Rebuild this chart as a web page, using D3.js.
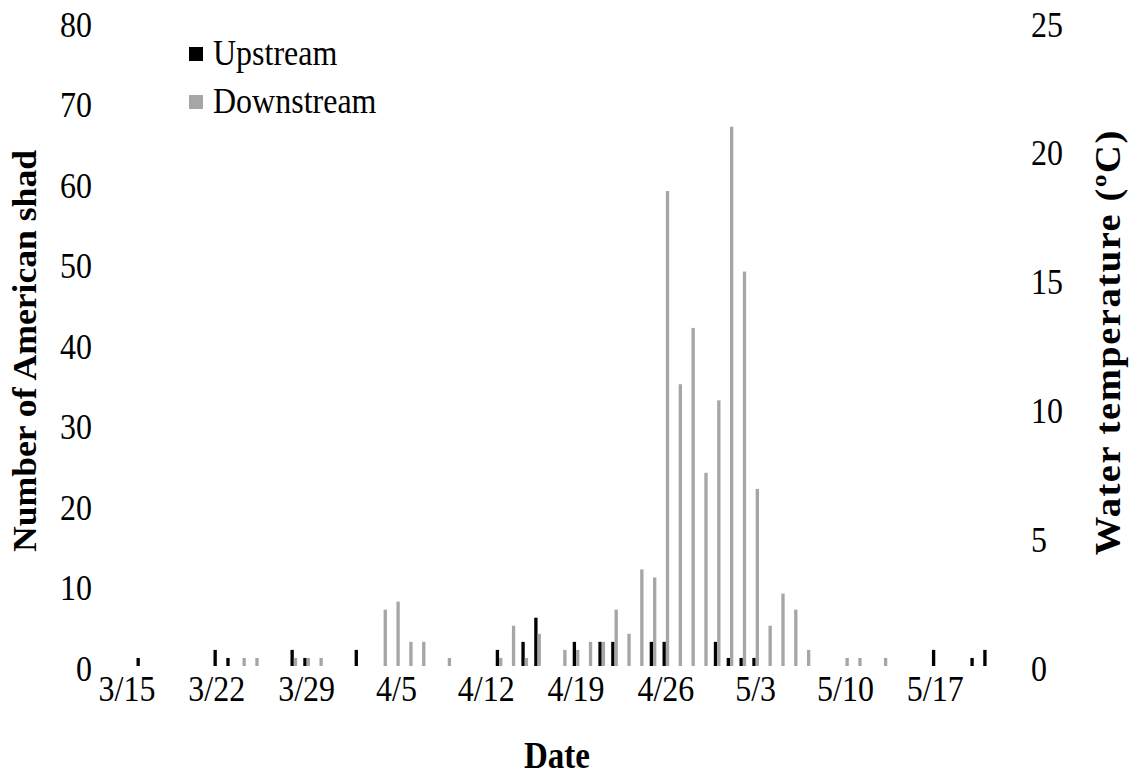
<!DOCTYPE html>
<html>
<head>
<meta charset="utf-8">
<script src="https://cdn.jsdelivr.net/npm/d3@7"></script>
<style>
  body { margin: 0; background: #fff; }
  text { font-family: "Liberation Serif", "Times New Roman", serif; fill: #000; }
</style>
</head>
<body>
<svg id="chart" width="1133" height="780"></svg>
<script>
// daily sampling dates, 3/15 through 5/21
var days = d3.timeDay.range(new Date(2016, 2, 15), new Date(2016, 4, 22));
var fmt = d3.timeFormat("%-m/%-d");
var dates = days.map(fmt);

// counts of American shad per day
var upstream = [
  0,1,0,0,0,0,0,2,1,0,
  0,0,0,2,1,0,0,0,2,0,
  0,0,0,0,0,0,0,0,0,2,
  0,3,6,0,0,3,0,3,3,0,
  0,3,3,0,0,0,3,1,1,1,
  0,0,0,0,0,0,0,0,0,0,
  0,0,0,2,0,0,1,2
];
var downstream = [
  0,0,0,0,0,0,0,0,0,1,
  1,0,0,1,1,1,0,0,0,0,
  7,8,3,3,0,1,0,0,0,1,
  5,1,4,0,2,2,3,3,7,4,
  12,11,59,35,42,24,33,67,49,22,
  5,9,7,2,0,0,1,1,0,1,
  0,0,0,0,0,0,0,0
];
var tickLabels = ["3/15","3/22","3/29","4/5","4/12","4/19","4/26","5/3","5/10","5/17"];
var seriesNames = ["Upstream", "Downstream"];
var seriesColors = ["#000000", "#a6a6a6"];

var svg = d3.select("svg#chart");

var plotLeft = 120.6, plotRight = 993,
    plotTop = 22, plotBottom = 666;

//x: one band per day
var x = d3.scaleBand()
    .domain(dates)
    .range([plotLeft, plotRight])
    .paddingInner(0)
    .paddingOuter(0);

var barW = 3.33;
var x1 = d3.scaleBand()
    .domain(seriesNames)
    .range([x.bandwidth() / 2 - barW, x.bandwidth() / 2 + barW]);

var y = d3.scaleLinear().domain([0, 80]).range([plotBottom, plotTop]);
var yRight = d3.scaleLinear().domain([0, 25]).range([plotBottom, plotTop]);

var rows = dates.map(function(d, i) {
  return { date: d, values: [upstream[i], downstream[i]] };
});

//draw bars
var groups = svg.append("g")
    .attr("class", "bars")
    .selectAll("g")
    .data(rows)
    .enter().append("g")
    .attr("transform", function(d) { return "translate(" + x(d.date) + ",0)"; });

groups.selectAll("rect")
    .data(function(d) {
      return d.values.map(function(v, j) { return { key: seriesNames[j], value: v, j: j }; })
        .filter(function(e) { return e.value > 0; });
    })
    .enter().append("rect")
    .attr("x", function(e) { return x1(e.key); })
    .attr("width", x1.bandwidth())
    .attr("y", function(e) { return y(e.value); })
    .attr("height", function(e) { return y(0) - y(e.value); })
    .attr("fill", function(e) { return seriesColors[e.j]; });

// the source text is drawn a little taller than normal
var tickFont = "32px", stretch = 1.12;

function styleTicks(sel, base) {
  sel.selectAll("text")
      .attr("y", 0).attr("dy", null)
      .attr("transform", "translate(0," + base + ") scale(1," + stretch + ")")
      .style("font-size", tickFont)
      .style("font-family", "'Liberation Serif', serif");
}

//left axis
var yAxis = d3.axisLeft(y).tickValues(d3.range(0, 81, 10)).tickSize(0).tickPadding(0);
var gy = svg.append("g")
    .attr("transform", "translate(92,0)")
    .call(yAxis);
gy.select(".domain").remove();
styleTicks(gy, 14);

//right axis
var yAxisR = d3.axisRight(yRight).tickValues(d3.range(0, 26, 5)).tickSize(0).tickPadding(0);
var gyr = svg.append("g")
    .attr("transform", "translate(1031,0)")
    .call(yAxisR);
gyr.select(".domain").remove();
styleTicks(gyr, 14);

//x axis
var xAxis = d3.axisBottom(x).tickValues(tickLabels).tickSize(0).tickPadding(0);
var gx = svg.append("g")
    .attr("transform", "translate(0,683)")
    .call(xAxis);
gx.select(".domain").remove();
styleTicks(gx, 18);

//axis titles
svg.append("text")
    .attr("transform", "translate(557,768) scale(1,1.15)")
    .attr("text-anchor", "middle")
    .style("font-size", "33px").style("font-weight", "bold")
    .text("Date");

svg.append("text")
    .attr("transform", "translate(36,351) rotate(-90) scale(1.08,1)")
    .attr("text-anchor", "middle")
    .style("font-size", "33px").style("font-weight", "bold")
    .text("Number of American shad");

svg.append("text")
    .attr("transform", "translate(1120,343) rotate(-90) scale(1.1,1)")
    .attr("text-anchor", "middle")
    .attr("textLength", 386)
    .attr("lengthAdjust", "spacing")
    .style("font-size", "35px").style("font-weight", "bold")
    .text("Water temperature (\u00baC)");

//legend
var legend = svg.append("g").attr("class", "legend")
    .selectAll("g")
    .data(seriesNames)
    .enter().append("g")
    .attr("transform", function(d, i) { return "translate(189," + (65 + i * 48) + ")"; });

legend.append("rect")
    .attr("y", -18)
    .attr("width", 14).attr("height", 14)
    .attr("fill", function(d, i) { return seriesColors[i]; });

legend.append("text")
    .attr("x", 24).attr("y", 0)
    .attr("transform", "scale(1," + stretch + ")")
    .style("font-size", tickFont)
    .text(function(d) { return d; });
</script>
</body>
</html>
